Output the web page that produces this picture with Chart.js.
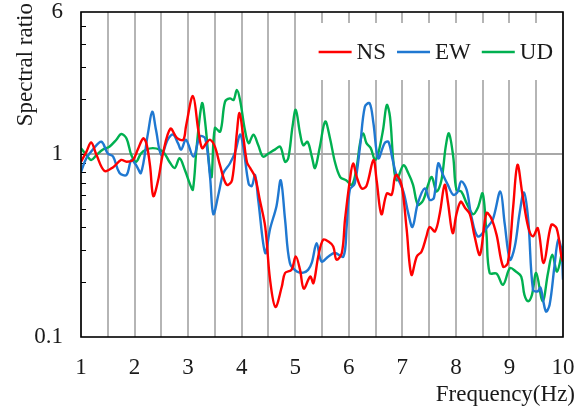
<!DOCTYPE html>
<html>
<head>
<meta charset="utf-8">
<script src="https://cdn.jsdelivr.net/npm/chart.js@4/dist/chart.umd.min.js"></script>
<style>
  html, body { margin: 0; padding: 0; background: #ffffff; }
  #wrap { width: 583px; height: 407px; }
</style>
</head>
<body>
<div id="wrap"><canvas id="chart" width="583" height="407"></canvas></div>
<script>
// Horizontal-to-vertical spectral ratios of the three components (NS, EW, UD)
const seriesNames = ['NS', 'EW', 'UD'];
const seriesColors = ['#ff0000', '#1f78d1', '#00b050'];

const freqNS = [1.00,1.10,1.19,1.29,1.44,1.60,1.75,1.85,1.97,2.06,2.16,2.22,2.29,2.35,2.44,2.53,2.67,2.79,2.91,2.96,
  3.09,3.19,3.26,3.34,3.41,3.50,3.60,3.72,3.82,3.91,3.96,4.03,4.10,4.16,4.25,4.34,4.44,4.53,4.63,4.75,
  4.81,4.93,5.01,5.09,5.16,5.28,5.34,5.43,5.52,5.62,5.71,5.77,5.87,5.93,6.02,6.08,6.15,6.24,6.33,6.46,
  6.52,6.61,6.71,6.80,6.86,6.90,6.99,7.08,7.17,7.27,7.36,7.45,7.51,7.61,7.70,7.79,7.85,7.94,8.01,8.09,
  8.17,8.26,8.35,8.45,8.57,8.66,8.76,8.88,8.97,9.07,9.15,9.24,9.35,9.44,9.53,9.64,9.78,9.88,9.97,10.0];
const ratioNS = [0.91,1.03,1.16,0.99,0.81,0.85,0.93,0.91,0.93,1.06,1.22,1.15,0.86,0.59,0.72,1.01,1.38,1.23,1.20,1.42,
  2.08,1.36,1.08,1.15,1.20,1.10,0.86,0.68,0.72,1.31,1.68,1.25,0.90,0.84,0.75,0.56,0.40,0.206,0.146,0.189,
  0.224,0.233,0.276,0.233,0.184,0.214,0.197,0.276,0.34,0.333,0.313,0.265,0.288,0.44,0.72,0.89,0.75,0.65,0.67,0.93,
  0.72,0.47,0.61,0.60,0.75,0.77,0.67,0.39,0.219,0.276,0.294,0.355,0.40,0.378,0.476,0.68,0.55,0.37,0.47,0.55,
  0.51,0.47,0.355,0.282,0.476,0.447,0.362,0.243,0.254,0.517,0.874,0.61,0.40,0.355,0.394,0.254,0.41,0.394,0.276,0.258];

const freqEW = [1.00,1.10,1.22,1.38,1.50,1.60,1.72,1.85,1.94,2.03,2.12,2.25,2.33,2.40,2.50,2.62,2.72,2.81,2.87,2.96,
  3.10,3.22,3.32,3.41,3.47,3.57,3.66,3.78,3.88,3.97,4.03,4.13,4.19,4.25,4.31,4.44,4.53,4.65,4.73,4.81,
  4.90,5.03,5.15,5.24,5.31,5.40,5.49,5.62,5.74,5.90,5.96,6.02,6.11,6.21,6.30,6.39,6.46,6.55,6.67,6.74,
  6.82,6.89,7.02,7.11,7.19,7.29,7.42,7.51,7.59,7.67,7.76,7.85,7.95,8.03,8.10,8.20,8.29,8.41,8.57,8.69,
  8.83,8.91,9.01,9.10,9.19,9.27,9.35,9.44,9.53,9.58,9.68,9.75,9.84,9.91,9.97,10.0];
const ratioEW = [0.80,0.95,1.06,1.17,1.01,0.97,0.79,0.77,0.93,0.87,0.79,1.30,1.71,1.36,0.99,1.20,1.28,1.15,1.06,1.20,
  0.97,1.25,1.22,0.75,0.47,0.61,0.79,0.89,1.03,1.28,1.10,0.69,0.67,0.77,0.56,0.288,0.39,0.52,0.72,0.44,
  0.254,0.228,0.225,0.233,0.255,0.326,0.259,0.276,0.288,0.276,0.40,0.64,0.69,1.10,1.82,1.90,1.48,0.95,1.15,1.17,
  0.93,0.77,0.625,0.476,0.40,0.54,0.65,0.563,0.577,0.89,0.77,0.68,0.60,0.62,0.71,0.64,0.456,0.355,0.394,0.44,
  0.625,0.42,0.265,0.313,0.476,0.617,0.44,0.181,0.178,0.186,0.138,0.15,0.243,0.34,0.30,0.206];

const freqUD = [1.00,1.10,1.19,1.29,1.41,1.53,1.66,1.75,1.85,1.94,2.03,2.12,2.22,2.34,2.47,2.56,2.65,2.75,2.84,2.94,
  3.04,3.09,3.16,3.26,3.32,3.41,3.44,3.50,3.60,3.69,3.78,3.85,3.91,3.97,4.06,4.13,4.22,4.31,4.40,4.50,
  4.62,4.72,4.81,4.87,4.95,5.01,5.09,5.15,5.23,5.31,5.37,5.46,5.56,5.65,5.74,5.84,5.95,6.06,6.15,6.21,
  6.27,6.33,6.41,6.49,6.55,6.64,6.71,6.77,6.83,6.89,7.02,7.11,7.20,7.29,7.39,7.48,7.55,7.64,7.73,7.81,
  7.87,7.95,8.01,8.10,8.20,8.32,8.41,8.50,8.57,8.63,8.76,8.88,9.01,9.12,9.22,9.28,9.35,9.42,9.50,9.62,
  9.72,9.80,9.89,10.0];
const ratioUD = [1.08,0.99,0.93,0.99,1.06,1.10,1.20,1.29,1.22,0.99,0.91,1.01,1.06,1.08,1.06,1.01,0.91,0.84,0.95,0.82,
  0.68,0.64,1.10,1.90,1.48,0.79,0.75,1.39,1.33,1.94,2.02,1.98,2.25,1.98,1.36,1.15,1.28,1.12,0.97,1.01,
  1.06,1.10,0.91,0.95,1.42,1.75,1.30,1.12,1.17,0.97,0.84,1.10,1.51,1.22,0.91,0.75,0.72,0.68,0.86,1.15,
  1.30,1.15,1.08,0.93,1.01,1.36,1.86,1.60,0.93,0.72,0.87,0.79,0.68,0.53,0.56,0.68,0.75,0.625,0.72,1.10,
  1.30,0.97,0.64,0.625,0.54,0.47,0.51,0.61,0.37,0.224,0.222,0.193,0.238,0.228,0.214,0.17,0.157,0.17,0.224,0.157,
  0.224,0.282,0.228,0.313];

// Axis ticks
const xMin = 1, xMax = 10, xStep = 0.5;
const yMin = 0.1, yMax = 6;
const yTickValues = [0.1,0.2,0.3,0.4,0.5,0.6,0.7,0.8,0.9,1,2,3,4,5,6];
const yTickLabels = [0.1, 1, 6];

const FONT = '"Liberation Serif", "Times New Roman", serif';

function points(fr, r) {
  const n = Math.min(fr.length, r.length);
  const out = [];
  for (let i = 0; i < n; i++) out.push({ x: fr[i], y: r[i] });
  return out;
}

const seriesData = [points(freqNS, ratioNS), points(freqEW, ratioEW), points(freqUD, ratioUD)];

// Frame, inward minor ticks, in-plot legend and axis titles
const decorations = {
  id: 'decorations',
  beforeDatasetsDraw(chart) {
    const { ctx, chartArea: a, scales: { y } } = chart;
    ctx.save();
    ctx.strokeStyle = '#000';
    ctx.lineWidth = 1;
    yTickValues.forEach(v => {
      if (v === yMin || v === yMax) return;
      const py = Math.round(y.getPixelForValue(v)) + 0.5;
      ctx.beginPath();
      ctx.moveTo(a.left, py);
      ctx.lineTo(a.left + 5, py);
      ctx.stroke();
    });
    ctx.restore();
  },
  afterDatasetsDraw(chart) {
    const { ctx, chartArea: a } = chart;
    ctx.save();
    // legend
    ctx.font = '23px ' + FONT;
    ctx.textBaseline = 'middle';
    const lineLen = 33, gapText = 5, gapItem = 11;
    const sets = chart.data.datasets;
    const widths = sets.map(d => ctx.measureText(d.label).width);
    let total = 0;
    widths.forEach((w, i) => { total += lineLen + gapText + w + (i ? gapItem : 0); });
    let x = a.right - 10 - total;
    const cy = a.top + 40;
    ctx.fillStyle = '#ffffff';
    ctx.fillRect(x - 14, a.top + 11, a.right - 2 - (x - 14), 57);
    sets.forEach((d, i) => {
      ctx.strokeStyle = d.borderColor;
      ctx.lineWidth = 2.4;
      ctx.beginPath();
      ctx.moveTo(x, cy);
      ctx.lineTo(x + lineLen, cy);
      ctx.stroke();
      x += lineLen + gapText;
      ctx.fillStyle = '#1a1a1a';
      ctx.textAlign = 'left';
      ctx.fillText(d.label, x, cy + 1);
      x += widths[i] + gapItem;
    });
    // frame
    ctx.strokeStyle = '#000';
    ctx.lineWidth = 1.6;
    ctx.strokeRect(a.left, a.top, a.right - a.left, a.bottom - a.top);
    ctx.restore();
  },
  afterDraw(chart) {
    const { ctx, width, height } = chart;
    ctx.save();
    ctx.fillStyle = '#1a1a1a';
    ctx.font = '23px ' + FONT;
    // x-axis title
    ctx.textAlign = 'right';
    ctx.textBaseline = 'alphabetic';
    ctx.fillText('Frequency(Hz)', width - 8, height - 6);
    // y-axis title
    ctx.translate(32, 3);
    ctx.rotate(-Math.PI / 2);
    ctx.textAlign = 'right';
    ctx.fillText('Spectral ratio', 0, 0);
    ctx.restore();
  }
};

new Chart(document.getElementById('chart'), {
  type: 'line',
  data: {
    datasets: seriesNames.map((name, i) => ({
      label: name,
      data: seriesData[i],
      borderColor: seriesColors[i],
      backgroundColor: seriesColors[i],
      borderWidth: 2.4,
      pointRadius: 0,
      tension: 0.35,
      fill: false
    }))
  },
  options: {
    responsive: false,
    animation: false,
    devicePixelRatio: 1,
    layout: { padding: { left: 0, right: 20, top: 12, bottom: 0 } },
    plugins: { legend: { display: false }, tooltip: { enabled: false } },
    scales: {
      x: {
        type: 'linear',
        min: xMin, max: xMax,
        border: { display: false },
        grid: { color: '#b5b5b5', lineWidth: 2, drawTicks: false },
        ticks: {
          stepSize: xStep,
          autoSkip: false,
          maxRotation: 0,
          padding: 17,
          color: '#1a1a1a',
          font: { family: FONT, size: 23 },
          callback: v => Number.isInteger(v) ? String(v) : ''
        },
        afterFit(scale) { scale.height = 70; scale.paddingLeft = 0; scale.paddingRight = 0; }
      },
      y: {
        type: 'logarithmic',
        min: yMin, max: yMax,
        border: { display: false },
        grid: {
          drawTicks: false,
          color: c => (c.tick && c.tick.value === 1) ? '#a8a8a8' : 'rgba(0,0,0,0)',
          lineWidth: 2
        },
        afterBuildTicks(scale) { scale.ticks = yTickValues.map(v => ({ value: v })); },
        ticks: {
          autoSkip: false,
          padding: 18,
          color: '#1a1a1a',
          font: { family: FONT, size: 23 },
          callback: v => yTickLabels.includes(v) ? String(v) : ''
        },
        afterFit(scale) { scale.width = 81; scale.paddingTop = 0; scale.paddingBottom = 0; }
      }
    }
  },
  plugins: [decorations]
});
</script>
</body>
</html>
